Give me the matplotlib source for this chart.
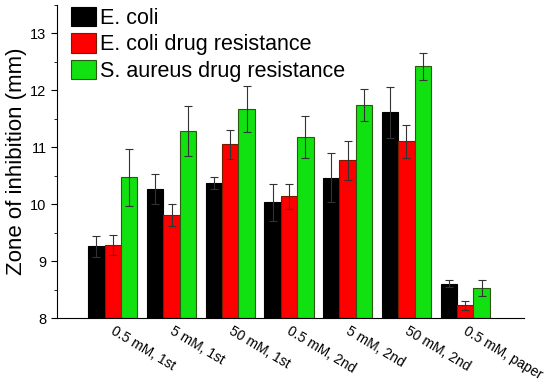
import numpy as np
import matplotlib.pyplot as plt
import matplotlib.transforms as mtransforms
from matplotlib.ticker import MultipleLocator

plt.rcParams['font.family'] = ['Liberation Sans', 'DejaVu Sans']

categories = ["0.5 mM, 1st", "5 mM, 1st", "50 mM, 1st", "0.5 mM, 2nd",
              "5 mM, 2nd", "50 mM, 2nd", "0.5 mM, paper"]
series_names = ["E. coli", "E. coli drug resistance", "S. aureus drug resistance"]

ecoli = [9.26, 10.27, 10.37, 10.03, 10.46, 11.61, 8.60]
ecoli_err = [0.18, 0.26, 0.10, 0.32, 0.43, 0.45, 0.06]
ecoli_dr = [9.28, 9.81, 11.05, 10.14, 10.77, 11.10, 8.22]
ecoli_dr_err = [0.18, 0.20, 0.26, 0.22, 0.34, 0.29, 0.08]
saureus_dr = [10.47, 11.29, 11.67, 11.18, 11.74, 12.42, 8.53]
saureus_dr_err = [0.50, 0.44, 0.40, 0.37, 0.28, 0.24, 0.14]

colors = ["#000000", "#ff0000", "#11e011"]
edges = ["#000000", "#7a1a00", "#2a5a10"]

fig = plt.figure(figsize=(5.5, 3.82), dpi=100)
ax = fig.add_axes([0.1036, 0.1675, 0.849, 0.82])

x = np.arange(1, len(categories) + 1)
w = 0.28
data = [(ecoli, ecoli_err), (ecoli_dr, ecoli_dr_err), (saureus_dr, saureus_dr_err)]
for i, (vals, errs) in enumerate(data):
    ax.bar(x + (i - 1) * w, np.array(vals) - 8, width=w, bottom=8,
           color=colors[i], edgecolor=edges[i], linewidth=0.8,
           label=series_names[i], zorder=2)
    ax.errorbar(x + (i - 1) * w, vals, yerr=errs, fmt='none', ecolor='#333333',
                elinewidth=0.8, capsize=3, capthick=0.8, zorder=3)

ax.set_xlim(0.05, 8.0)
ax.set_ylim(8, 13.5)
ax.yaxis.set_major_locator(MultipleLocator(1))
ax.yaxis.set_minor_locator(MultipleLocator(0.5))
ax.tick_params(axis='y', direction='out', length=4, labelsize=10.5)
ax.tick_params(axis='y', which='minor', length=2)
ax.set_xticks(x)
ax.set_xticklabels(categories, rotation=-31, ha='left', va='top',
                   rotation_mode='anchor', fontsize=10)
ax.tick_params(axis='x', length=0, pad=4)
shift = mtransforms.ScaledTranslation(3 / 100, 0, fig.dpi_scale_trans)
for lbl in ax.get_xticklabels():
    lbl.set_transform(lbl.get_transform() + shift)
ax.spines['top'].set_visible(False)
ax.spines['right'].set_visible(False)
ax.set_ylabel("Zone of inhibition (mm)", fontsize=16, labelpad=2)

ax.legend(loc='upper left', bbox_to_anchor=(0.025, 1.0), frameon=False,
          fontsize=15.5, handlelength=1.15, handleheight=1.0,
          handletextpad=0.2, labelspacing=0.2, borderaxespad=0,
          borderpad=0.1)

fig.savefig("out.png", dpi=100)
